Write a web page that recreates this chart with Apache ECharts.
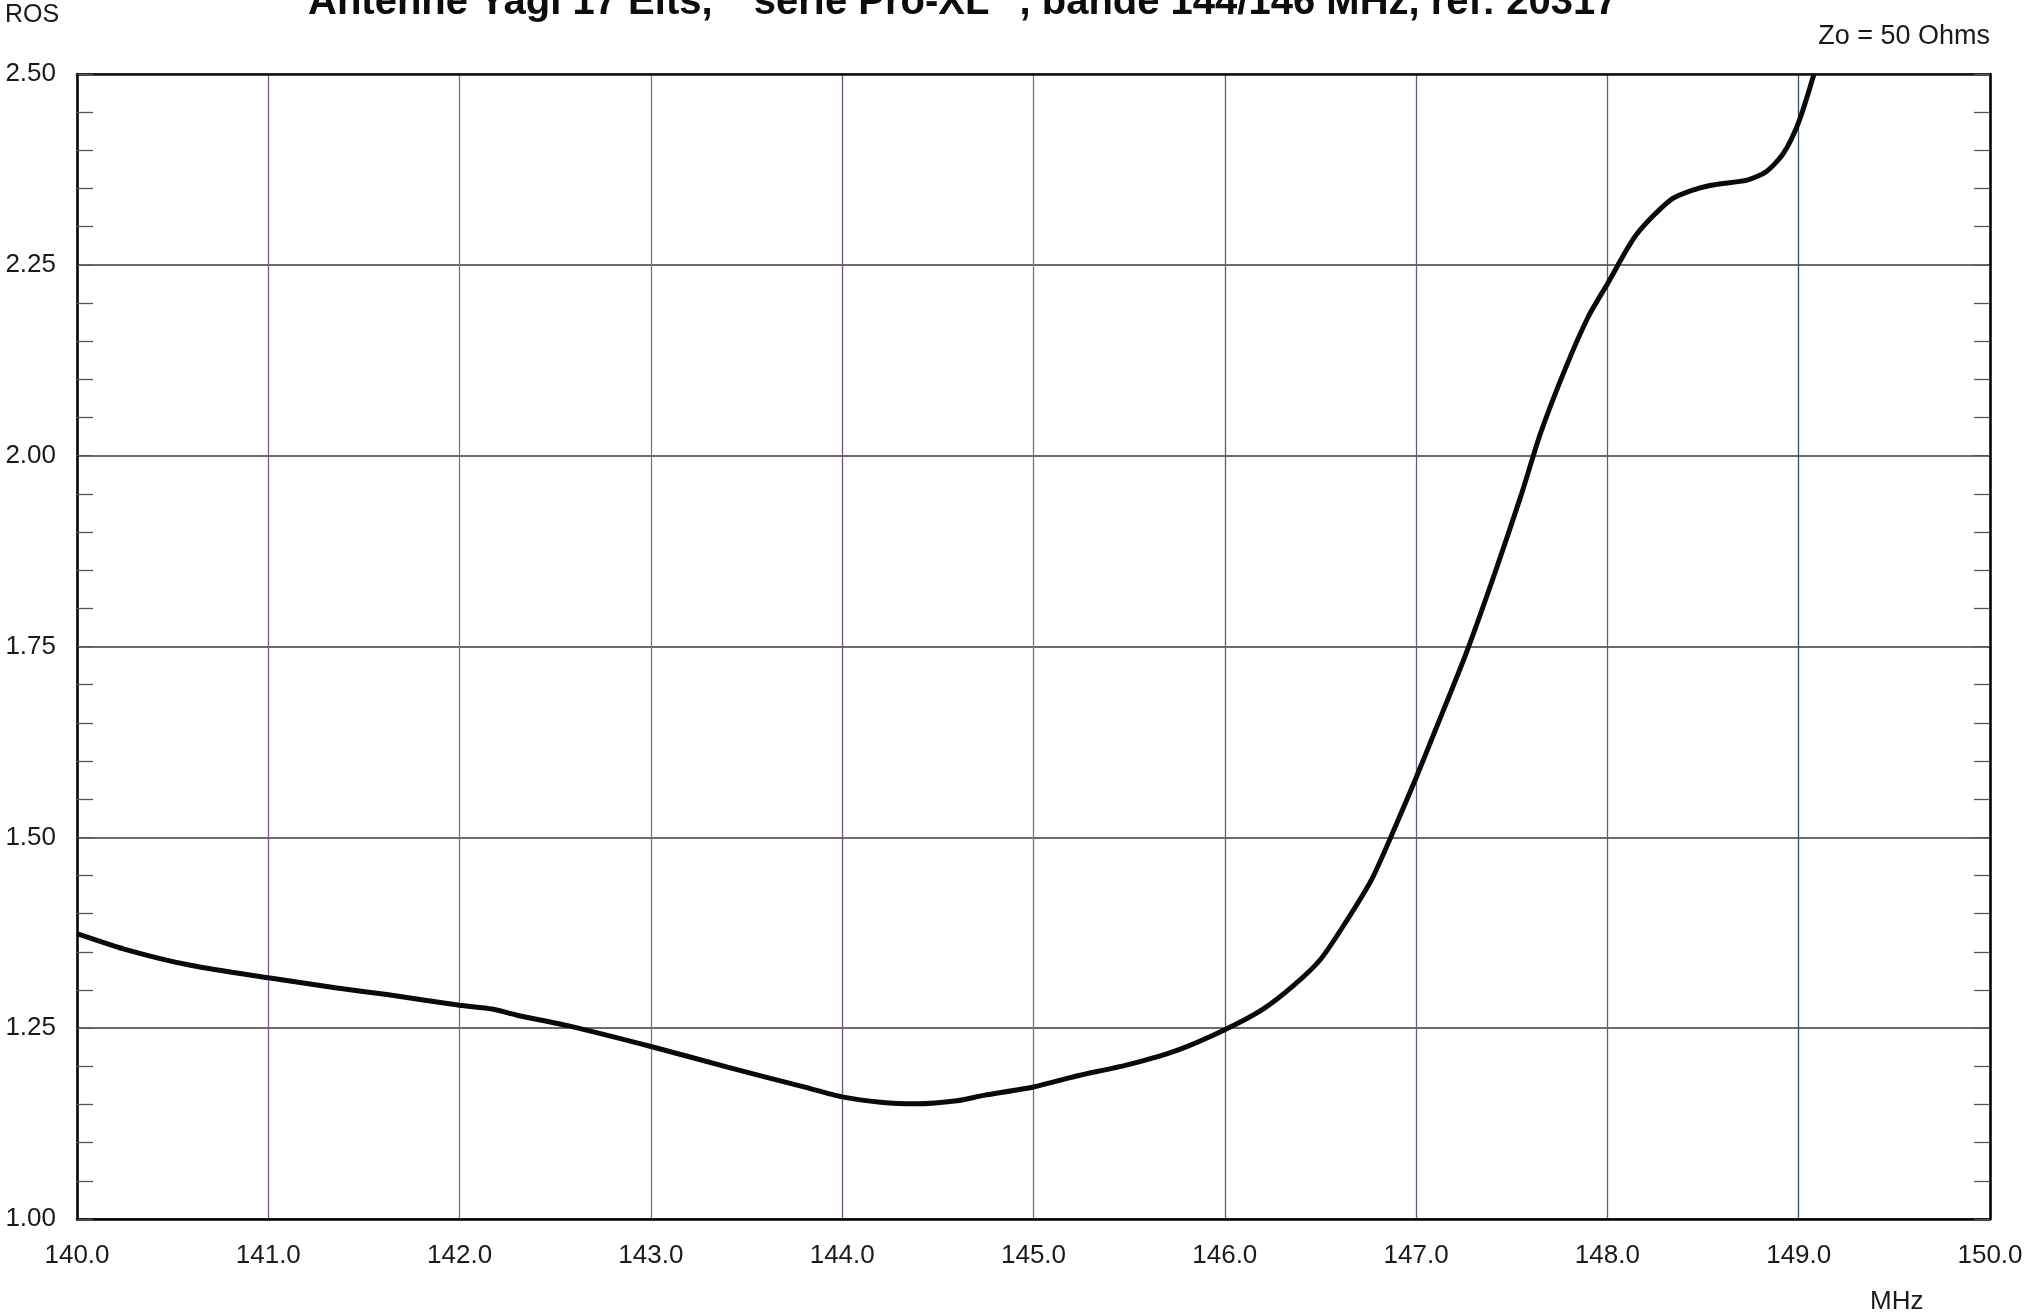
<!DOCTYPE html>
<html>
<head>
<meta charset="utf-8">
<title>ROS Yagi 17 Elts</title>
<script src="https://cdn.jsdelivr.net/npm/echarts@6/dist/echarts.min.js"></script>
<style>
    html, body { margin: 0; padding: 0; background: #fff; }
    #ros { width: 2031px; height: 1315px; }
</style>
</head>
<body>
<div id="ros"></div>
<script>
// données (MHz / ROS)
var freq = [140.0, 140.27, 140.6, 141.0, 141.35, 141.62, 142.0, 142.17, 142.3, 142.57,
    143.0, 143.4, 143.8, 144.0, 144.2, 144.39, 144.6, 144.74, 145.0, 145.22,
    145.49, 145.75, 146.0, 146.2, 146.36, 146.5, 146.63, 146.77, 146.9, 147.0,
    147.1, 147.26, 147.41, 147.55, 147.65, 147.78, 147.9, 148.0, 148.15, 148.33,
    148.46, 148.56, 148.73, 148.83, 148.92, 149.0, 149.08];
var ros = [1.374, 1.352, 1.332, 1.316, 1.303, 1.294, 1.280, 1.275, 1.267, 1.253,
    1.226, 1.199, 1.173, 1.160, 1.153, 1.151, 1.155, 1.162, 1.173, 1.187,
    1.202, 1.221, 1.248, 1.275, 1.306, 1.340, 1.388, 1.446, 1.519, 1.578,
    1.640, 1.740, 1.845, 1.949, 2.029, 2.114, 2.182, 2.225, 2.289, 2.335,
    2.349, 2.355, 2.361, 2.372, 2.396, 2.437, 2.50];

// axes
var xMin = 140, xMax = 150, xStep = 1;
var yMin = 1.0, yMax = 2.5, yStep = 0.25;

// couleurs des verticales (scan)
var vColors = ['#000', '#7d5b86', '#5d8a5b', '#5b8a66', '#735083', '#5e8a5e',
    '#7a4f78', '#55609a', '#3f6f72', '#3a4f62', '#000'];

var titre = 'Antenne Yagi 17 Elts,  "série Pro-XL" , bande 144/146 MHz, ref: 20317';

var txtFont = '"Liberation Sans", Arial, sans-serif';

var rosChart = echarts.init(document.getElementById('ros'));

var points = freq.map(function (f, i) { return [f, ros[i]]; });

rosChart.setOption({
    backgroundColor: '#fff',
    animation: false,
    title: {
        text: titre,
        left: 303,
        top: -22,
        textStyle: { fontFamily: txtFont, fontWeight: 'bold', fontSize: 40, color: '#0d0d0d' }
    },
    grid: { left: 77, right: 41, top: 74, bottom: 96 },
    xAxis: [{
        type: 'value', min: xMin, max: xMax, interval: xStep,
        axisLine: { lineStyle: { color: '#000', width: 2.5 } },
        axisTick: { show: false },
        axisLabel: {
            margin: 24, fontSize: 26, fontFamily: txtFont, color: '#1a1a1a',
            formatter: function (v) { return v.toFixed(1); }
        },
        splitLine: { show: true, lineStyle: { color: vColors, width: 1.3 } }
    }, {
        type: 'value', position: 'top', min: xMin, max: xMax, interval: xStep,
        axisLine: { show: true, onZero: false, lineStyle: { color: '#111', width: 2.5 } },
        axisTick: { show: false }, axisLabel: { show: false }, splitLine: { show: false }
    }],
    yAxis: [{
        type: 'value', min: yMin, max: yMax, interval: yStep,
        axisLine: { show: true, lineStyle: { color: '#000', width: 2.5 } },
        axisTick: { show: true, inside: true, length: 16, lineStyle: { color: '#555' } },
        minorTick: { show: true, splitNumber: 5, length: 16, lineStyle: { color: '#555', width: 1.3 } },
        axisLabel: {
            margin: 21, fontSize: 26, fontFamily: txtFont, color: '#1a1a1a',
            formatter: function (v) { return v.toFixed(2); }
        },
        splitLine: { show: true, lineStyle: { color: '#3a3a3a', width: 1.5 } }
    }, {
        type: 'value', position: 'right', min: yMin, max: yMax, interval: yStep,
        axisLine: { show: true, onZero: false, lineStyle: { color: '#000', width: 2.5 } },
        axisTick: { show: true, inside: true, length: 16, lineStyle: { color: '#555' } },
        minorTick: { show: true, splitNumber: 5, length: 16, lineStyle: { color: '#555', width: 1.3 } },
        axisLabel: { show: false },
        splitLine: { show: false }
    }],
    graphic: [
        { type: 'text', left: 5, top: 3, style: { text: 'ROS', fontSize: 25, fontFamily: txtFont, fill: '#1a1a1a' } },
        { type: 'text', right: 41, top: 23, style: { text: 'Zo = 50 Ohms', fontSize: 27, fontFamily: txtFont, fill: '#1a1a1a' } },
        { type: 'text', left: 1870, top: 1289, style: { text: 'MHz', fontSize: 26, fontFamily: txtFont, fill: '#1a1a1a' } }
    ],
    series: [{
        type: 'line',
        data: points,
        smooth: 0.25,
        showSymbol: false,
        clip: true,
        lineStyle: { color: '#0a0a0a', width: 5 }
    }]
});
</script>
</body>
</html>
